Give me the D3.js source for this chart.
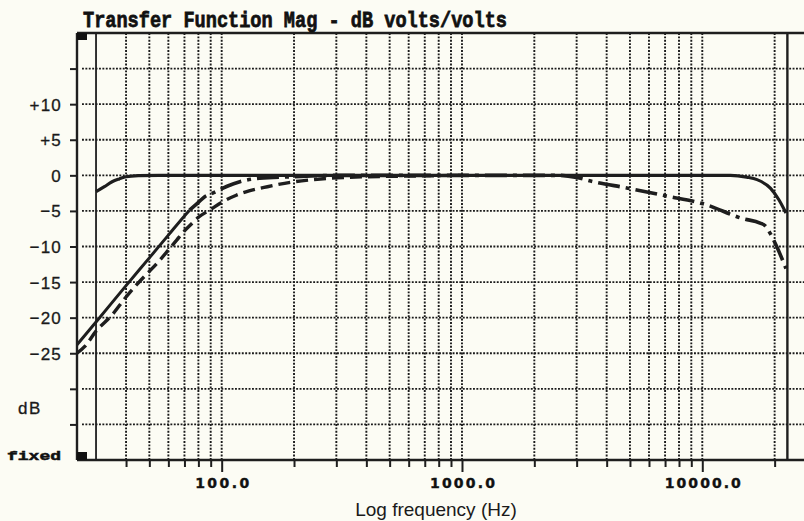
<!DOCTYPE html>
<html>
<head>
<meta charset="utf-8">
<script src="https://cdn.jsdelivr.net/npm/d3@7/dist/d3.min.js"></script>
<style>
  html, body { margin: 0; padding: 0; background: #fcfcf4; }
  svg { display: block; }
</style>
</head>
<body>
<script>
// Frequency grid (Hz)
const gridFreqs = [40, 50, 60, 70, 80, 90, 100, 200, 300, 400, 500, 600, 700, 800, 900,
                   1000, 2000, 3000, 4000, 5000, 6000, 7000, 8000, 9000, 10000, 20000];
const majorFreqs = [100, 1000, 10000];
const majorLabels = ["100.0", "1000.0", "10000.0"];
const bandEdges = [30, 22600];

// Magnitude grid (dB)
const dbTicks = [15, 10, 5, 0, -5, -10, -15, -20, -25, -30, -35];
const dbTickLabels = ["", "+10", "+5", "0", "\u22125", "\u221210", "\u221215", "\u221220", "\u221225", "", ""];

// Flat response with gentle roll-off at both ends (solid)
const flatFreq = [30, 32.5, 35, 37.5, 40, 45, 55, 100, 1000, 10000, 13100, 15300, 16900, 19200, 20800, 22300];
const flatDb   = [-2.3, -1.6, -0.9, -0.5, -0.2, -0.05, 0, 0, 0, 0, 0, -0.25, -0.6, -1.8, -3.4, -5.3];

// Low cut with high-frequency tilt (solid below the knee, dash-dot above)
const tiltFreq = [25, 30, 40, 50, 60, 70, 73.5, 79.4, 85, 91.7, 100, 106, 119, 144, 200, 300,
                  1000, 2500, 3000, 3430, 4900, 7100, 10100, 14800, 17400, 18300, 19200, 20400, 22300];
const tiltDb   = [-23.8, -20.6, -15.5, -11.6, -8.4, -5.7, -4.9, -3.9, -3.0, -2.5, -1.9, -1.5, -0.9, -0.4, -0.2, 0,
                  0, 0, -0.3, -0.8, -1.8, -2.9, -4.0, -6.1, -6.7, -7.1, -8.2, -10.0, -13.1];
const tiltKnee = 73.5;

// Low cut with softer knee (dashed)
const softFreq = [25, 27, 30, 35, 40, 45, 50, 55, 60, 65, 70, 75, 80, 90, 100, 115, 130, 155, 200, 250, 300, 400, 600, 1000];
const softDb   = [-25.0, -24.0, -21.9, -19.6, -17.1, -15.1, -13.5, -12.0, -10.5, -9.1, -7.8, -6.8, -5.9, -4.8, -3.8,
                  -2.8, -2.2, -1.6, -0.9, -0.55, -0.35, -0.2, -0.1, 0];

const W = 804, H = 521;
const plotL = 77, plotR = 804, plotT = 33, plotB = 460;
const ink = "#1e1e1e";

const x = d3.scaleLog().domain([25, 26500]).range([plotL, plotR]);
const y = d3.scaleLinear().domain([-40, 20]).range([plotB, plotT]);

const svg = d3.select("body").append("svg").attr("width", W).attr("height", H);
svg.append("rect").attr("width", W).attr("height", H).attr("fill", "#fcfcf4");

// dotted grid
const grid = svg.append("g").attr("stroke", "#1a1a1a").attr("stroke-width", 1.9)
  .attr("stroke-dasharray", "1.9,1.5");
grid.selectAll("line.v").data(gridFreqs).join("line").attr("class", "v")
  .attr("x1", d => x(d)).attr("x2", d => x(d)).attr("y1", plotT).attr("y2", plotB);
grid.selectAll("line.h").data(dbTicks).join("line").attr("class", "h")
  .attr("x1", plotL + 5).attr("x2", plotR).attr("y1", d => y(d)).attr("y2", d => y(d));

// band edge markers
svg.append("g").selectAll("line").data(bandEdges).join("line")
  .attr("x1", d => x(d)).attr("x2", d => x(d)).attr("y1", plotT).attr("y2", plotB)
  .attr("stroke", ink).attr("stroke-width", (d, i) => i ? 2.4 : 1.8);

// frame
svg.append("line").attr("x1", plotL).attr("x2", plotR).attr("y1", plotT).attr("y2", plotT)
  .attr("stroke", ink).attr("stroke-width", 2.6);
svg.append("line").attr("x1", plotL).attr("x2", plotR).attr("y1", plotB).attr("y2", plotB)
  .attr("stroke", ink).attr("stroke-width", 2.4);
svg.append("line").attr("x1", plotL).attr("x2", plotL).attr("y1", plotT).attr("y2", plotB)
  .attr("stroke", ink).attr("stroke-width", 2.4);
svg.append("rect").attr("x", plotL).attr("y", plotT).attr("width", 10).attr("height", 7).attr("fill", "#111");
svg.append("rect").attr("x", plotL).attr("y", plotB - 8).attr("width", 10).attr("height", 8).attr("fill", "#111");

// x axis ticks and labels
const xAxis = d3.axisBottom(x).tickValues(gridFreqs).tickSize(0).tickFormat("");
const gx = svg.append("g").attr("transform", `translate(0,${plotB})`).call(xAxis);
gx.select(".domain").remove();
gx.selectAll(".tick line").attr("y2", d => majorFreqs.includes(d) ? 12 : 7)
  .attr("stroke", ink).attr("stroke-width", 2);
gx.selectAll(".tick text").remove();
gx.selectAll(".tick").filter(d => majorFreqs.includes(d)).append("text")
  .attr("y", 28).attr("text-anchor", "middle").attr("fill", "#111")
  .attr("stroke", "#111").attr("stroke-width", 0.4)
  .attr("font-family", "DejaVu Sans").attr("font-weight", "bold").attr("font-size", 14)
  .attr("textLength", d => [54, 65, 76][majorFreqs.indexOf(d)]).attr("lengthAdjust", "spacing")
  .text(d => majorLabels[majorFreqs.indexOf(d)]);

// y axis ticks and labels
const yAxis = d3.axisLeft(y).tickValues(dbTicks).tickSize(7).tickPadding(8)
  .tickFormat((d, i) => dbTickLabels[i]);
const gy = svg.append("g").attr("transform", `translate(${plotL},0)`).call(yAxis);
gy.select(".domain").remove();
gy.selectAll(".tick line").attr("stroke", ink).attr("stroke-width", 2);
gy.selectAll(".tick text").attr("fill", "#1a1a1a").attr("font-family", "Liberation Sans")
  .attr("stroke", "#1a1a1a").attr("stroke-width", 0.3)
  .attr("font-size", 17).attr("letter-spacing", 1.2).attr("dy", "0.35em");

// curves
const line = d3.line().x(d => x(d.f)).y(d => y(d.db)).curve(d3.curveMonotoneX);
const pts = (fs, ds) => fs.map((f, i) => ({ f, db: ds[i] }));
const tilt = pts(tiltFreq, tiltDb);

svg.append("path").datum(pts(softFreq, softDb)).attr("d", line)
  .attr("fill", "none").attr("stroke", ink).attr("stroke-width", 3.4).attr("stroke-dasharray", "12,6");
svg.append("path").datum(tilt.filter(d => d.f >= tiltKnee)).attr("d", line)
  .attr("fill", "none").attr("stroke", ink).attr("stroke-width", 3.6).attr("stroke-dasharray", "22,6,4,6");
svg.append("path").datum(tilt.filter(d => d.f <= tiltKnee)).attr("d", line)
  .attr("fill", "none").attr("stroke", ink).attr("stroke-width", 3);
svg.append("path").datum(pts(flatFreq, flatDb)).attr("d", line)
  .attr("fill", "none").attr("stroke", ink).attr("stroke-width", 3.2);

// titles
svg.append("text").attr("x", 83).attr("y", 27)
  .attr("font-family", "Liberation Mono").attr("font-weight", "bold").attr("font-size", 18)
  .attr("fill", "#111").attr("stroke", "#111").attr("stroke-width", 0.6)
  .attr("textLength", 424).attr("lengthAdjust", "spacingAndGlyphs")
  .attr("transform", "translate(0,27) scale(1,1.25) translate(0,-27)")
  .text("Transfer Function Mag - dB volts/volts");
svg.append("text").attr("x", 436).attr("y", 516).attr("text-anchor", "middle")
  .attr("font-family", "Liberation Sans").attr("font-size", 19).attr("fill", "#1a1a1a")
  .text("Log frequency (Hz)");
svg.append("text").attr("x", 30).attr("y", 414).attr("text-anchor", "middle")
  .attr("font-family", "Liberation Sans").attr("font-size", 17).attr("letter-spacing", 1.5)
  .attr("fill", "#1a1a1a").attr("stroke", "#1a1a1a").attr("stroke-width", 0.3).text("dB");
svg.append("text").attr("x", 7).attr("y", 460)
  .attr("font-family", "Liberation Mono").attr("font-weight", "bold").attr("font-size", 12)
  .attr("fill", "#111").attr("stroke", "#111").attr("stroke-width", 0.5)
  .attr("textLength", 54).attr("lengthAdjust", "spacingAndGlyphs").text("fixed");
</script>
</body>
</html>
